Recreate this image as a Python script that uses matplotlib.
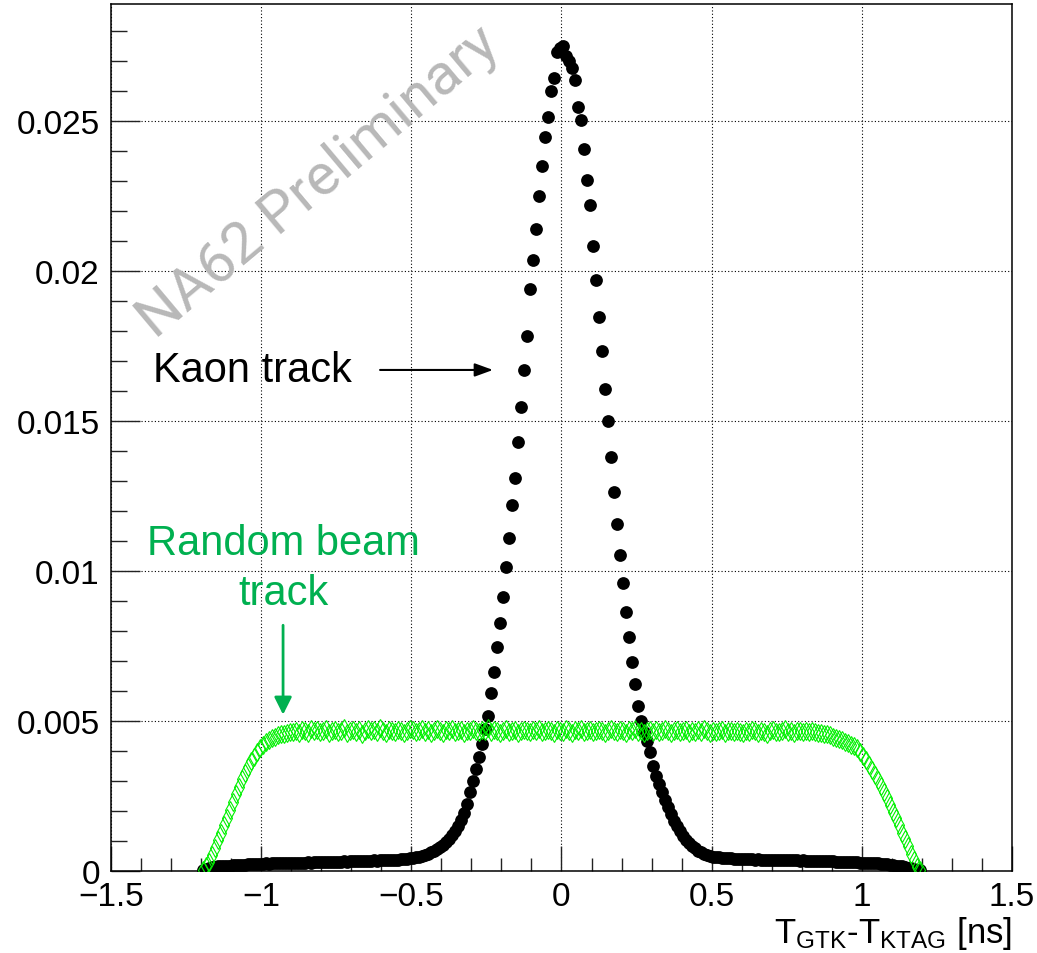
import numpy as np
import matplotlib.pyplot as plt
from matplotlib.ticker import MultipleLocator

plt.rcParams['font.family'] = ['Liberation Sans', 'DejaVu Sans']
plt.rcParams['mathtext.fontset'] = 'custom'
plt.rcParams['mathtext.rm'] = 'Liberation Sans'
plt.rcParams['mathtext.it'] = 'Liberation Sans:italic'

# Histogram binning: 240 bins of 0.01 ns between -1.2 and 1.2 ns
bin_lo, bin_hi, n_bins = -1.2, 1.2, 240

# Kaon track (matched GTK-KTAG), normalised bin contents
kaon = [
    0.00003, 0.00007, 0.00010, 0.00012, 0.00014, 0.00015, 0.00016, 0.00017, 0.00018, 0.00018,
    0.00019, 0.00020, 0.00020, 0.00021, 0.00020, 0.00022, 0.00022, 0.00023, 0.00022, 0.00024,
    0.00024, 0.00025, 0.00024, 0.00025, 0.00026, 0.00025, 0.00026, 0.00027, 0.00026, 0.00027,
    0.00027, 0.00028, 0.00027, 0.00028, 0.00028, 0.00029, 0.00028, 0.00029, 0.00029, 0.00030,
    0.00029, 0.00030, 0.00030, 0.00031, 0.00030, 0.00031, 0.00031, 0.00032, 0.00031, 0.00032,
    0.00032, 0.00033, 0.00032, 0.00033, 0.00034, 0.00033, 0.00034, 0.00035, 0.00034, 0.00035,
    0.00036, 0.00035, 0.00036, 0.00037, 0.00037, 0.00038, 0.00039, 0.00039, 0.00041, 0.00042,
    0.00044, 0.00046, 0.00048, 0.00051, 0.00054, 0.00058, 0.00062, 0.00067, 0.00073, 0.00080,
    0.00088, 0.00097, 0.00107, 0.00119, 0.00133, 0.00150, 0.00170, 0.00194, 0.00222, 0.00262,
    0.00301, 0.00340, 0.00379, 0.00423, 0.00473, 0.00518, 0.00593, 0.00664, 0.00748, 0.00828,
    0.00914, 0.01012, 0.01109, 0.01220, 0.01310, 0.01429, 0.01548, 0.01671, 0.01784, 0.01940,
    0.02037, 0.02140, 0.02251, 0.02349, 0.02446, 0.02514, 0.02601, 0.02642, 0.02729, 0.02744,
    0.02750, 0.02718, 0.02701, 0.02676, 0.02638, 0.02546, 0.02503, 0.02407, 0.02304, 0.02220,
    0.02084, 0.01971, 0.01848, 0.01734, 0.01607, 0.01500, 0.01381, 0.01264, 0.01156, 0.01054,
    0.00959, 0.00862, 0.00779, 0.00696, 0.00623, 0.00549, 0.00501, 0.00463, 0.00434, 0.00396,
    0.00351, 0.00318, 0.00290, 0.00262, 0.00236, 0.00212, 0.00189, 0.00168, 0.00149, 0.00132,
    0.00117, 0.00104, 0.00093, 0.00083, 0.00075, 0.00068, 0.00062, 0.00057, 0.00053, 0.00050,
    0.00048, 0.00046, 0.00045, 0.00044, 0.00043, 0.00042, 0.00042, 0.00041, 0.00041, 0.00040,
    0.00040, 0.00039, 0.00039, 0.00040, 0.00038, 0.00039, 0.00038, 0.00038, 0.00037, 0.00038,
    0.00037, 0.00036, 0.00037, 0.00036, 0.00036, 0.00035, 0.00036, 0.00035, 0.00035, 0.00034,
    0.00035, 0.00034, 0.00034, 0.00033, 0.00034, 0.00033, 0.00033, 0.00032, 0.00033, 0.00032,
    0.00032, 0.00031, 0.00031, 0.00030, 0.00031, 0.00030, 0.00030, 0.00029, 0.00029, 0.00028,
    0.00028, 0.00027, 0.00027, 0.00026, 0.00025, 0.00025, 0.00024, 0.00023, 0.00022, 0.00021,
    0.00020, 0.00018, 0.00017, 0.00015, 0.00013, 0.00011, 0.00009, 0.00007, 0.00004, 0.00002,
]

# Random (accidental) beam track, normalised bin contents
random_beam = [
    0.00002, 0.00015, 0.00031, 0.00053, 0.00077, 0.00103, 0.00128, 0.00153, 0.00178, 0.00204,
    0.00230, 0.00255, 0.00280, 0.00305, 0.00327, 0.00347, 0.00365, 0.00381, 0.00396, 0.00409,
    0.00420, 0.00430, 0.00437, 0.00443, 0.00448, 0.00452, 0.00455, 0.00458, 0.00461, 0.00463,
    0.00464, 0.00468, 0.00461, 0.00470, 0.00466, 0.00459, 0.00472, 0.00465, 0.00469, 0.00462,
    0.00467, 0.00473, 0.00460, 0.00466, 0.00470, 0.00463, 0.00468, 0.00475, 0.00461, 0.00466,
    0.00469, 0.00464, 0.00471, 0.00458, 0.00467, 0.00472, 0.00465, 0.00469, 0.00462, 0.00476,
    0.00466, 0.00461, 0.00470, 0.00467, 0.00463, 0.00471, 0.00468, 0.00460, 0.00465, 0.00473,
    0.00469, 0.00462, 0.00467, 0.00474, 0.00464, 0.00470, 0.00461, 0.00468, 0.00472, 0.00465,
    0.00460, 0.00469, 0.00466, 0.00473, 0.00463, 0.00467, 0.00471, 0.00459, 0.00468, 0.00465,
    0.00472, 0.00466, 0.00462, 0.00470, 0.00467, 0.00475, 0.00463, 0.00469, 0.00465, 0.00461,
    0.00468, 0.00473, 0.00464, 0.00467, 0.00470, 0.00460, 0.00466, 0.00471, 0.00468, 0.00463,
    0.00469, 0.00465, 0.00474, 0.00462, 0.00467, 0.00471, 0.00466, 0.00459, 0.00470, 0.00468,
    0.00464, 0.00472, 0.00467, 0.00461, 0.00469, 0.00466, 0.00473, 0.00463, 0.00468, 0.00470,
    0.00462, 0.00467, 0.00471, 0.00465, 0.00460, 0.00468, 0.00474, 0.00466, 0.00463, 0.00469,
    0.00467, 0.00461, 0.00470, 0.00465, 0.00472, 0.00463, 0.00468, 0.00459, 0.00466, 0.00471,
    0.00464, 0.00469, 0.00462, 0.00467, 0.00473, 0.00465, 0.00461, 0.00468, 0.00470, 0.00463,
    0.00466, 0.00471, 0.00460, 0.00467, 0.00464, 0.00469, 0.00462, 0.00472, 0.00465, 0.00461,
    0.00468, 0.00463, 0.00466, 0.00470, 0.00459, 0.00465, 0.00468, 0.00462, 0.00467, 0.00464,
    0.00460, 0.00466, 0.00463, 0.00469, 0.00465, 0.00461, 0.00467, 0.00463, 0.00458, 0.00466,
    0.00470, 0.00464, 0.00462, 0.00467, 0.00472, 0.00463, 0.00466, 0.00461, 0.00468, 0.00465,
    0.00463, 0.00467, 0.00462, 0.00466, 0.00464, 0.00461, 0.00460, 0.00458, 0.00456, 0.00452,
    0.00448, 0.00444, 0.00440, 0.00435, 0.00430, 0.00426, 0.00421, 0.00416, 0.00410, 0.00398,
    0.00384, 0.00369, 0.00354, 0.00338, 0.00321, 0.00303, 0.00283, 0.00263, 0.00242, 0.00220,
    0.00198, 0.00175, 0.00152, 0.00128, 0.00105, 0.00082, 0.00058, 0.00035, 0.00014, 0.00002,
]

x_ticks = [-1.5, -1.0, -0.5, 0.0, 0.5, 1.0, 1.5]
x_tick_labels = ['\u22121.5', '\u22121', '\u22120.5', '0', '0.5', '1', '1.5']
y_ticks = [0, 0.005, 0.01, 0.015, 0.02, 0.025]
y_tick_labels = ['0', '0.005', '0.01', '0.015', '0.02', '0.025']

edges = np.linspace(bin_lo, bin_hi, n_bins + 1)
centers = 0.5 * (edges[:-1] + edges[1:])

fig = plt.figure(figsize=(10.37, 9.54), dpi=100)
ax = fig.add_axes([0.1070, 0.0860, 0.8689, 0.9088])

ax.plot(centers, kaon, 'o', color='black', ms=9.2, mew=0, zorder=3)
ax.plot(centers, random_beam, 'd', mfc='none', mec='#00f000', ms=9, mew=0.8, zorder=4)

ax.set_xlim(-1.5, 1.5)
ax.set_ylim(0, 0.0289)
ax.set_xticks(x_ticks)
ax.set_xticklabels(x_tick_labels)
ax.set_yticks(y_ticks)
ax.set_yticklabels(y_tick_labels)
ax.xaxis.set_minor_locator(MultipleLocator(0.1))
ax.yaxis.set_minor_locator(MultipleLocator(0.001))

ax.tick_params(axis='both', which='both', direction='in', top=False, right=False,
               width=1.0, color='#222222', labelsize=24)
ax.tick_params(axis='x', which='major', length=18, pad=7)
ax.tick_params(axis='x', which='minor', length=9.5)
ax.tick_params(axis='y', which='major', length=21, pad=8)
ax.tick_params(axis='y', which='minor', length=11.5)
for sp in ax.spines.values():
    sp.set_linewidth(1.1)

ax.grid(which='major', color='black', linestyle=(0, (1, 2)), linewidth=0.8, zorder=0)
ax.set_axisbelow(True)

ax.set_xlabel(r'T$_{\mathrm{GTK}}$-T$_{\mathrm{KTAG}}$ [ns]', loc='right', fontsize=25, labelpad=2)

# watermark
ax.text(-0.81, 0.0230, 'NA62 Preliminary', fontsize=42, family='Roboto',
        fontstyle='normal', fontweight='normal', color='#b8b8b8',
        rotation=40, ha='center', va='center', rotation_mode='anchor', zorder=1)

# annotations
ax.text(-1.36, 0.0167, 'Kaon track', fontsize=30, color='black', ha='left', va='center')
ax.annotate('', xy=(-0.228, 0.0167), xytext=(-0.604, 0.0167),
            arrowprops=dict(arrowstyle='-|>,head_length=0.55,head_width=0.2', color='black',
                            lw=1.5, mutation_scale=20, shrinkA=0, shrinkB=0))

ax.text(-0.927, 0.0101, 'Random beam\ntrack', fontsize=30, color='#00b050',
        ha='center', va='center', linespacing=1.3)
ax.annotate('', xy=(-0.927, 0.00521), xytext=(-0.927, 0.00819),
            arrowprops=dict(arrowstyle='-|>,head_length=0.5,head_width=0.25', color='#00b050',
                            lw=2, mutation_scale=21, shrinkA=0, shrinkB=0))

fig.savefig('out.png', dpi=100, facecolor='white')
